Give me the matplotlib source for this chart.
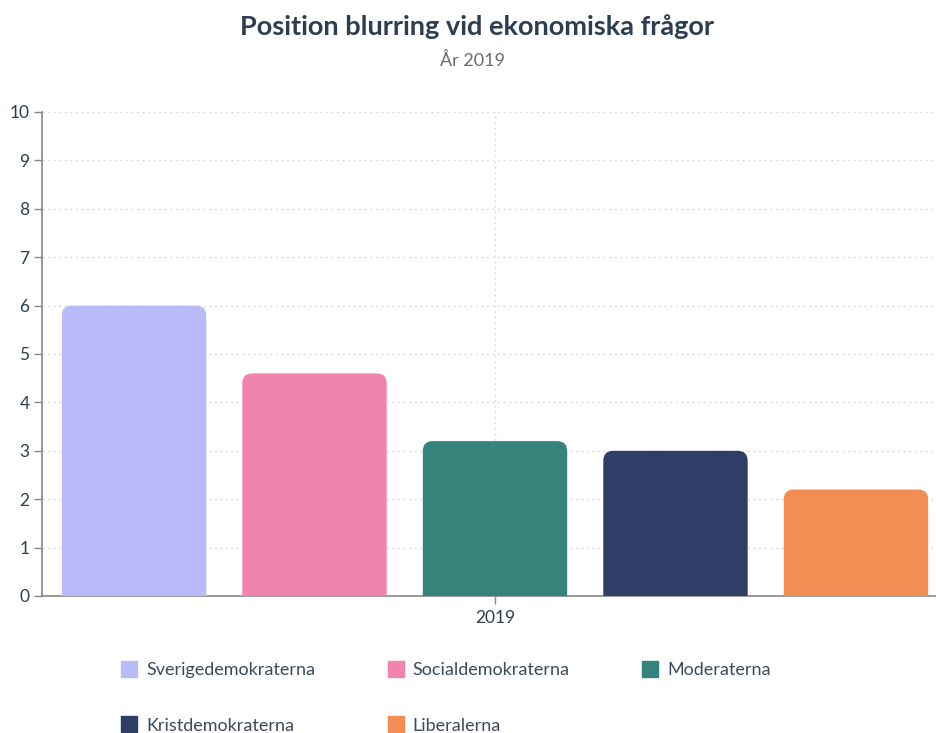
import matplotlib.pyplot as plt
from matplotlib.path import Path
from matplotlib.patches import PathPatch
from matplotlib.lines import Line2D

# data
parties = ["Sverigedemokraterna", "Socialdemokraterna", "Moderaterna",
           "Kristdemokraterna", "Liberalerna"]
values = [6.0, 4.6, 3.2, 3.0, 2.2]
colors = ["#b9baf9", "#f084ad", "#35837b", "#2f3e66", "#f28e53"]
year = "2019"

plt.rcParams['font.family'] = ['Lato', 'DejaVu Sans']

fig = plt.figure(figsize=(9.36, 7.33), dpi=100)
ax = fig.add_axes([42 / 936, 137 / 733, 906 / 936, 484 / 733])

x = list(range(len(parties)))
bars = ax.bar(x, values, width=0.8, color=colors, label=parties)

ax.set_xlim(-0.51, 4.51)
ax.set_ylim(0, 10)


def rounded_top(x0, y0, w, h, rx, ry):
    # bar path with rounded top corners only
    verts = [(x0, y0), (x0, y0 + h - ry), (x0, y0 + h), (x0 + rx, y0 + h),
             (x0 + w - rx, y0 + h), (x0 + w, y0 + h), (x0 + w, y0 + h - ry),
             (x0 + w, y0), (x0, y0)]
    codes = [Path.MOVETO, Path.LINETO, Path.CURVE3, Path.CURVE3,
             Path.LINETO, Path.CURVE3, Path.CURVE3, Path.LINETO, Path.CLOSEPOLY]
    return Path(verts, codes)


# swap the plain rectangles for rounded-top ones (radius ~10 px)
rx = 10 / 181
ry = 10 / 48.4
for b in bars:
    p = PathPatch(rounded_top(b.get_x(), b.get_y(), b.get_width(), b.get_height(), rx, ry),
                  facecolor=b.get_facecolor(), edgecolor='none', zorder=3)
    ax.add_patch(p)
    b.set_visible(False)

# axes styling
ax.set_yticks(range(0, 11))
ax.set_xticks([2])
ax.set_xticklabels([year])
for s in ['top', 'right']:
    ax.spines[s].set_visible(False)
for s in ['left', 'bottom']:
    ax.spines[s].set_color('#888888')
    ax.spines[s].set_linewidth(1.2)
ax.tick_params(axis='y', colors='#888888', labelcolor='#2c3e50', labelsize=12.5,
               length=6, width=1, pad=3)
ax.tick_params(axis='x', colors='#888888', labelcolor='#2c3e50', labelsize=12.5,
               length=6, width=1, pad=4)
ax.grid(True, color='#dcdcdc', linestyle=(0, (1.5, 2.5)), linewidth=1, zorder=0)
ax.set_axisbelow(True)

# titles
fig.text(477 / 936, 1 - 27 / 733, "Position blurring vid ekonomiska frågor",
         ha='center', va='center', fontsize=19.5, fontweight='bold', color='#2c3e50')
fig.text(472 / 936, 1 - 60 / 733, "År 2019", ha='center', va='center',
         fontsize=13, color='#6b6b6b')

# legend, filled row by row
handles = [Line2D([], [], marker='s', linestyle='none', markersize=12,
                  markerfacecolor=c, markeredgecolor=c, label=l)
           for c, l in zip(colors, parties)]
order = [0, 3, 1, 4, 2]
fig.legend(handles=[handles[i] for i in order], ncol=3, loc='upper left',
           bbox_to_anchor=(121 / 936, 1 - 662 / 733), frameon=False,
           fontsize=13, labelcolor='#3d4a5c', handlelength=0.9, handletextpad=0.5,
           columnspacing=4.0, labelspacing=2.2, borderpad=0, borderaxespad=0)

fig.savefig("out.png", dpi=100)
